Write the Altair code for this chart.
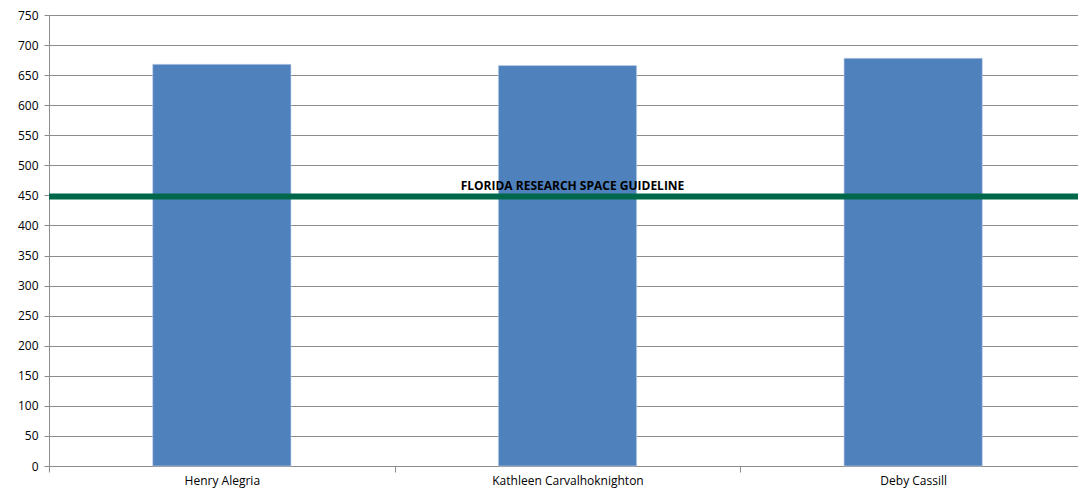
import altair as alt
import pandas as pd

names = ["Henry Alegria", "Kathleen Carvalhoknighton", "Deby Cassill"]
values = [668, 666, 678]
y_ticks = [0, 50, 100, 150, 200, 250, 300, 350, 400, 450, 500, 550, 600, 650, 700, 750]
guideline_value = [448]
guideline_label = ["FLORIDA RESEARCH SPACE GUIDELINE"]

bars_df = pd.DataFrame({"name": names, "value": values})
line_df = pd.DataFrame({"value": guideline_value, "label": guideline_label, "name": [names[1]]})

font = "Open Sans"
grey = "#8c8c8c"

x_scale = alt.Scale(domain=names, paddingInner=0, paddingOuter=0, range=[0, 1037])
y_scale = alt.Scale(domain=[0, 750], nice=False)

x_axis = alt.Axis(title=None, labelAngle=0, tickBand="extent", domainColor=grey,
                  tickColor=grey, tickSize=6, labelPadding=3, labelFont=font,
                  labelFontSize=12, labelColor="#000000", grid=False)
y_axis = alt.Axis(title=None, values=y_ticks, grid=True,
                  gridColor=grey, gridWidth=1, domainColor=grey, tickColor=grey,
                  tickSize=5, labelPadding=6, labelFont=font, labelFontSize=12,
                  labelColor="#000000", labelOverlap=False)

bars = alt.Chart(bars_df).mark_bar(
    color="#4F81BD", width=alt.RelativeBandSize(0.4), stroke="#c6d4ea", strokeWidth=0.6
).encode(
    x=alt.X("name:N", scale=x_scale, sort=names, axis=x_axis),
    y=alt.Y("value:Q", scale=y_scale, axis=y_axis)
)

rule = alt.Chart(line_df).mark_rule(color="#00684A", strokeWidth=6).encode(
    y=alt.Y("value:Q", scale=y_scale, axis=y_axis)
)

text = alt.Chart(line_df).mark_text(
    font=font, fontSize=12, fontWeight="bold", color="#000000", dy=-11, dx=5
).encode(
    x=alt.X("name:N", scale=x_scale, sort=names, axis=x_axis),
    y=alt.Y("value:Q", scale=y_scale, axis=y_axis),
    text="label:N"
)

chart = alt.layer(bars, rule, text).properties(
    width=1029, height=451,
    autosize=alt.AutoSizeParams(type="none"),
    padding={"left": 41, "top": 7, "right": 0, "bottom": 23}
).configure_view(stroke=None).configure(background="#ffffff")

chart.save("out.html", embed_options={"renderer": "svg", "actions": False})
